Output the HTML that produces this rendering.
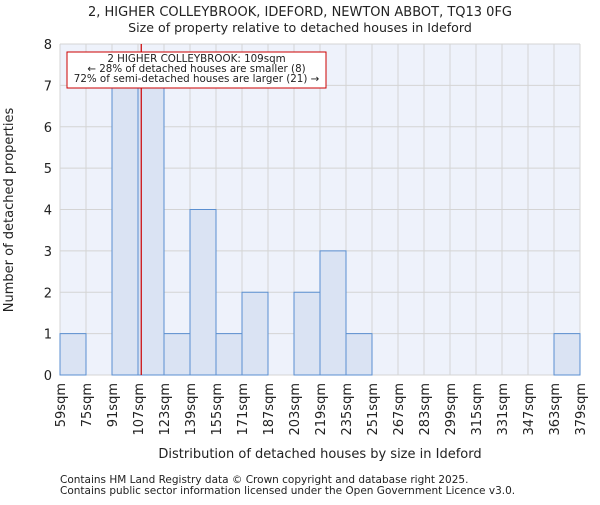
<!DOCTYPE html>
<html><head><meta charset="utf-8"><style>
body{margin:0;background:#fff;font-family:"Liberation Sans","DejaVu Sans",sans-serif}
svg text{font-family:"DejaVu Sans","Liberation Sans",sans-serif;fill:#222}
</style></head><body>
<svg id="chart" width="600" height="500" xmlns="http://www.w3.org/2000/svg">
<text x="300" y="16" font-size="13" text-anchor="middle">2, HIGHER COLLEYBROOK, IDEFORD, NEWTON ABBOT, TQ13 0FG</text>
<text x="300" y="32" font-size="12.6" text-anchor="middle">Size of property relative to detached houses in Ideford</text>
<rect x="60" y="44" width="520" height="331" fill="#eef2fb"/>
<g id="grid"></g><g id="bars"></g><g id="axes"></g>
<text x="320" y="458" font-size="13" text-anchor="middle">Distribution of detached houses by size in Ideford</text>
<text transform="translate(13,210) rotate(-90)" font-size="13" text-anchor="middle">Number of detached properties</text>
<text x="60" y="483" font-size="10.5">Contains HM Land Registry data © Crown copyright and database right 2025.</text>
<text x="60" y="494" font-size="10.5">Contains public sector information licensed under the Open Government Licence v3.0.</text>
</svg>
<script>
const binStarts=[59,75,91,107,123,139,155,171,187,203,219,235,251,267,283,299,315,331,347,363];
const counts=[1,0,7,7,1,4,1,2,0,2,3,1,0,0,0,0,0,0,0,1];
const xTickLabels=[59,75,91,107,123,139,155,171,187,203,219,235,251,267,283,299,315,331,347,363,379];
const yTicks=[0,1,2,3,4,5,6,7,8];
const propertySize=109;
const NS="http://www.w3.org/2000/svg";
const X0=60,X1=580,Y0=375,Y1=44;
const xs=v=>X0+(v-59)/(379-59)*(X1-X0);
const ys=v=>Y0-v/8*(Y0-Y1);
function mk(tag,attrs,parent){const e=document.createElementNS(NS,tag);for(const k in attrs)e.setAttribute(k,attrs[k]);parent.appendChild(e);return e;}
const grid=document.getElementById('grid'),bars=document.getElementById('bars'),axes=document.getElementById('axes');
yTicks.forEach(t=>{
  const l=mk('line',{x1:X0,x2:X1,y1:ys(t),y2:ys(t),stroke:'#d4d4d4','stroke-width':1},grid);
  
  
  const tx=mk('text',{x:X0-8,y:ys(t)+5,'font-size':13,'text-anchor':'end'},axes);
  tx.textContent=t;
  
  
});
xTickLabels.forEach(v=>{
  const l=mk('line',{x1:xs(v),x2:xs(v),y1:Y1,y2:Y0,stroke:'#d4d4d4','stroke-width':1},grid);
  
  
  const tx=mk('text',{x:0,y:0,'font-size':13,'text-anchor':'end',transform:`translate(${xs(v)+5},${Y0+8}) rotate(-90)`},axes);
  tx.textContent=v+'sqm';
  
  
});
binStarts.forEach((b,i)=>{
  if(!counts[i])return;
  const r=mk('rect',{x:xs(b),y:ys(counts[i]),width:xs(b+16)-xs(b),height:Y0-ys(counts[i]),fill:'#dae3f3',stroke:'#5b8fd0','stroke-width':1},bars);
  
  
});
const pl=mk('line',{x1:xs(propertySize),x2:xs(propertySize),y1:Y1,y2:Y0,stroke:'#cc0000','stroke-width':1.2},bars);


const box=mk('rect',{x:67,y:52,width:259,height:36,fill:'#fff',stroke:'#cc0000','stroke-width':1},bars);


["2 HIGHER COLLEYBROOK: 109sqm","← 28% of detached houses are smaller (8)","72% of semi-detached houses are larger (21) →"].forEach((s,i)=>{
  const t=mk('text',{x:196.5,y:62+i*10,'font-size':10.3,'text-anchor':'middle'},bars);
  t.textContent=s;
  
  
});
</script>
</body></html>
